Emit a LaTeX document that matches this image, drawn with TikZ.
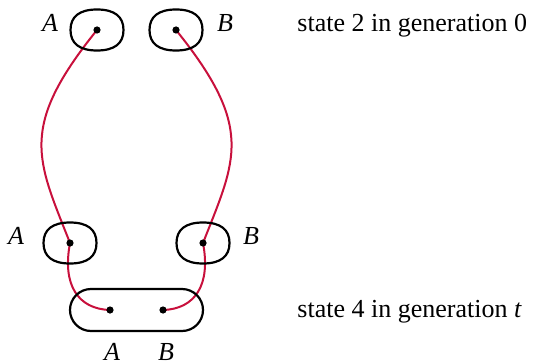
\documentclass[tikz,border=0pt]{standalone}
\usepackage{fontspec}
\setmainfont{Liberation Serif}
\usepackage{tikz}
\usetikzlibrary{shapes.misc,positioning,backgrounds}
\definecolor{linkred}{RGB}{200,16,60}

\tikzset{
    locus/.pic={
        \draw[line width=1.1pt] (26.5,0) .. controls (26.5,13.5) and (17.5,20.5) .. (0,20.5)
            .. controls (-17.5,20.5) and (-26.5,13.5) .. (-26.5,0)
            .. controls (-26.5,-13.5) and (-17.5,-20.5) .. (0,-20.5)
            .. controls (17.5,-20.5) and (26.5,-13.5) .. (26.5,0) -- cycle;
    }
}

\begin{document}
\begin{tikzpicture}[
    x=0.5pt, y=-0.5pt,
    font=\fontsize{13}{15}\selectfont,
    pair/.style={rounded rectangle, draw, line width=1.1pt, minimum width=66.5pt, minimum height=21pt, inner sep=0pt},
    dot/.style={circle, fill=black, inner sep=0pt, minimum size=3.6pt},
    link/.style={linkred, line width=1pt},
    lbl/.style={anchor=base, inner sep=0pt, font=\fontsize{13}{15}\selectfont\itshape},
    caption/.style={anchor=base west, inner sep=0pt}
]
\useasboundingbox (0,0) rectangle (533,363);

% generation 0
\pic (top-a) at (97,30) {locus};
\pic (top-b) at (176,30) {locus};
\node[dot] (a0) at (97,30) {};
\node[dot] (b0) at (176,30) {};
\node[lbl] (top-a-lbl) at (50,32) {A};
\node[lbl] (top-b-lbl) at (225,32) {B};
\node[caption] (gen0) at (297,32) {state 2 in generation 0};

% middle
\pic (mid-a) at (70,243) {locus};
\pic (mid-b) at (203,243) {locus};
\node[dot] (a1) at (70,243) {};
\node[dot] (b1) at (203,243) {};
\node[lbl] (mid-a-lbl) at (16,244) {A};
\node[lbl] (mid-b-lbl) at (251,244) {B};

% generation t
\node[pair] (bottom) at (136.5,310) {};
\node[dot] (a2) at (110,310) {};
\node[dot] (b2) at (163,310) {};
\node[lbl] (bot-a-lbl) at (112,360) {A};
\node[lbl] (bot-b-lbl) at (166,360) {B};
\node[caption] (gent) at (297,317) {state 4 in generation \textit{t}};

% lines of descent
\begin{scope}[on background layer]
\draw[link] (a0.center) .. controls (18,128) and (37,159) .. (a1.center)
    .. controls (62,285) and (78,309) .. (a2.center);
\draw[link] (b0.center) .. controls (255,128) and (236,159) .. (b1.center)
    .. controls (211,285) and (195,309) .. (b2.center);
\end{scope}

\end{tikzpicture}
\end{document}
